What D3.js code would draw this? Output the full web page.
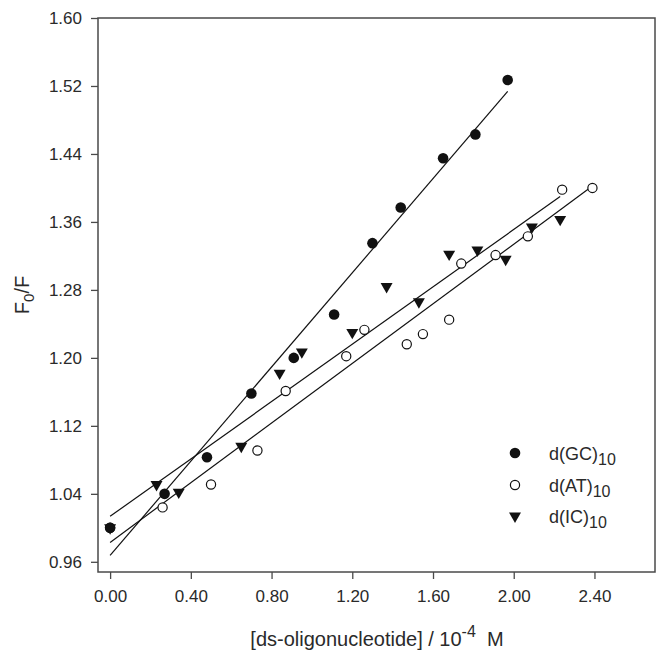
<!DOCTYPE html>
<html><head><meta charset="utf-8">
<script src="https://cdn.jsdelivr.net/npm/d3@7"></script>
<style>
html,body{margin:0;padding:0;background:#fff;}
svg{display:block;}
text{font-family:"Liberation Sans",Arial,Helvetica,sans-serif;fill:#2a2a2a;}
</style></head>
<body>
<svg id="chart" width="664" height="669"></svg>
<script>
// ---- data ----
const xTicks = [0.00, 0.40, 0.80, 1.20, 1.60, 2.00, 2.40];
const yTicks = [0.96, 1.04, 1.12, 1.20, 1.28, 1.36, 1.44, 1.52, 1.60];

const gcX = [0.00, 0.27, 0.48, 0.70, 0.91, 1.11, 1.30, 1.44, 1.65, 1.81, 1.97];
const gcY = [1.000, 1.040, 1.083, 1.158, 1.200, 1.251, 1.335, 1.377, 1.435, 1.463, 1.527];

const atX = [0.00, 0.26, 0.50, 0.73, 0.87, 1.17, 1.26, 1.47, 1.55, 1.68, 1.74, 1.91, 2.07, 2.24, 2.39];
const atY = [1.000, 1.024, 1.051, 1.091, 1.161, 1.202, 1.233, 1.216, 1.228, 1.245, 1.311, 1.321, 1.343, 1.398, 1.400];

const icX = [0.00, 0.23, 0.34, 0.65, 0.84, 0.95, 1.20, 1.37, 1.53, 1.68, 1.82, 1.96, 2.09, 2.23];
const icY = [1.000, 1.051, 1.042, 1.096, 1.182, 1.207, 1.230, 1.284, 1.266, 1.322, 1.327, 1.316, 1.354, 1.363];

const seriesNames = ["GC", "AT", "IC"];

// ---- layout ----
const svg = d3.select("#chart");
const x = d3.scaleLinear().domain([-0.06, 2.70]).range([98, 655]);
const y = d3.scaleLinear().domain([0.948, 1.60]).range([572, 18]);
const axisColor = "#4a4a4a";

// axes
const gx = svg.append("g").attr("transform", `translate(0,${y.range()[0]})`)
  .call(d3.axisBottom(x).tickValues(xTicks).tickFormat(d3.format(".2f")).tickSize(7).tickPadding(11).tickSizeOuter(0));
const gy = svg.append("g").attr("transform", `translate(${x.range()[0]},0)`)
  .call(d3.axisLeft(y).tickValues(yTicks).tickFormat(d3.format(".2f")).tickSize(7).tickPadding(9).tickSizeOuter(0));
[gx, gy].forEach(g => {
  g.select(".domain").remove();
  g.selectAll(".tick line").attr("stroke", axisColor).attr("stroke-width", 1.3);
  g.selectAll(".tick text").style("font-size", "17px").attr("fill", "#2a2a2a");
});

// frame
svg.append("rect")
  .attr("x", x.range()[0]).attr("y", y.range()[1])
  .attr("width", x.range()[1] - x.range()[0]).attr("height", y.range()[0] - y.range()[1])
  .attr("fill", "none").attr("stroke", axisColor).attr("stroke-width", 1.5);

// least-squares fit lines computed from the data arrays
function fit(xs, ys) {
  const mx = d3.mean(xs), my = d3.mean(ys);
  let sxy = 0, sxx = 0;
  xs.forEach((v, i) => { sxy += (v - mx) * (ys[i] - my); sxx += (v - mx) * (v - mx); });
  const b = sxy / sxx, a = my - b * mx;
  const x0 = d3.min(xs), x1 = d3.max(xs);
  return [[x0, a + b * x0], [x1, a + b * x1]];
}
const line = d3.line().x(d => x(d[0])).y(d => y(d[1]));
[[gcX, gcY], [atX, atY], [icX, icY]].forEach(([xs, ys]) => {
  svg.append("path").attr("d", line(fit(xs, ys)))
    .attr("fill", "none").attr("stroke", "#111").attr("stroke-width", 1.2);
});

// markers
const tri = d3.symbol().type(d3.symbolTriangle).size(62);
function drawAT(g, cx, cy) {
  g.append("circle").attr("cx", cx).attr("cy", cy).attr("r", 4.6)
    .attr("fill", "#fff").attr("stroke", "#111").attr("stroke-width", 1.2);
}
function drawGC(g, cx, cy) {
  g.append("circle").attr("cx", cx).attr("cy", cy).attr("r", 5.3).attr("fill", "#111");
}
function drawIC(g, cx, cy) {
  g.append("path").attr("d", tri()).attr("fill", "#111")
    .attr("transform", `translate(${cx},${cy}) rotate(180)`);
}
const pts = svg.append("g");
atX.forEach((v, i) => drawAT(pts, x(v), y(atY[i])));
gcX.forEach((v, i) => drawGC(pts, x(v), y(gcY[i])));
icX.forEach((v, i) => drawIC(pts, x(v), y(icY[i])));

// legend
const legend = svg.append("g");
const legY = [453, 485, 516];
const legDraw = [drawGC, drawAT, drawIC];
seriesNames.forEach((name, i) => {
  legDraw[i](legend, 515, legY[i]);
  const t = legend.append("text").attr("x", 549).attr("y", legY[i] + 7).style("font-size", "18px");
  t.append("tspan").text(`d(${name})`);
  t.append("tspan").attr("dy", 5).style("font-size", "16px").text("10");
});

// axis titles
const xt = svg.append("text").attr("x", 377).attr("y", 646).attr("text-anchor", "middle").style("font-size", "20px");
xt.append("tspan").text("[ds-oligonucleotide] / 10");
xt.append("tspan").attr("dy", -9).style("font-size", "16px").text("-4");
xt.append("tspan").attr("dy", 9).text("\u00a0\u00a0M");

const yt = svg.append("text").attr("transform", "translate(29,295) rotate(-90)").attr("text-anchor", "middle").style("font-size", "20px");
yt.append("tspan").text("F");
yt.append("tspan").attr("dy", 5).style("font-size", "15px").text("0");
yt.append("tspan").attr("dy", -5).text("/F");
</script>
</body></html>
